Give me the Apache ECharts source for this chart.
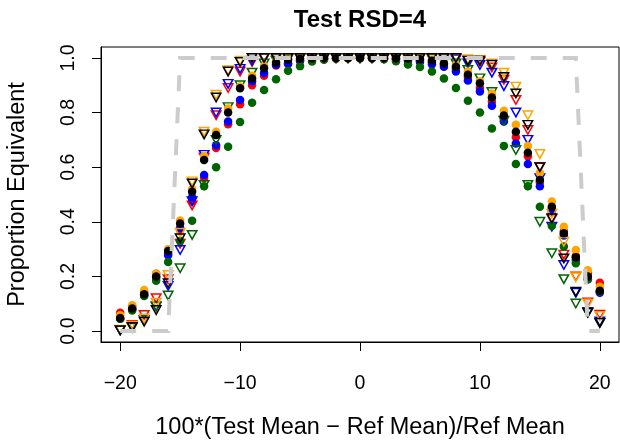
<!DOCTYPE html>
<html>
<head>
<meta charset="utf-8">
<script src="https://cdn.jsdelivr.net/npm/echarts@6/dist/echarts.min.js"></script>
<style>
html,body{margin:0;padding:0;background:#fff;}
#chart{width:620px;height:441px;}
</style>
</head>
<body>
<div id="chart"></div>
<script>
// x positions: 100*(Test Mean - Ref Mean)/Ref Mean
const xs = [-20,-19,-18,-17,-16,-15,-14,-13,-12,-11,-10,-9,-8,-7,-6,-5,-4,-3,-2,-1,0,1,2,3,4,5,6,7,8,9,10,11,12,13,14,15,16,17,18,19,20];

// ideal (reference) curve, gray dashed
const idealY = [0,0,0,0,0,1,1,1,1,1,1,1,1,1,1,1,1,1,1,1,1,1,1,1,1,1,1,1,1,1,1,1,1,1,1,1,1,1,1,0,0];

// filled circles
const redCirc = [.067,.09,.14,.21,.285,.37,.475,.56,.67,.757,.83,.90,.935,.972,.978,.99,.995,.998,.999,1,1,1,.999,.997,.993,.99,.983,.975,.96,.93,.89,.84,.775,.71,.64,.545,.45,.365,.275,.21,.177];
const blueCirc = [.045,.08,.13,.195,.278,.377,.49,.571,.68,.767,.846,.915,.945,.975,.98,.99,.995,.998,.999,1,1,.999,.998,.995,.99,.985,.977,.968,.95,.917,.877,.825,.767,.687,.612,.53,.437,.35,.26,.19,.14];
const greenCirc = [.045,.075,.128,.184,.253,.33,.404,.53,.60,.675,.765,.836,.883,.922,.953,.97,.987,.993,.997,.998,.998,.998,.995,.988,.976,.967,.95,.925,.89,.843,.80,.742,.678,.612,.53,.455,.385,.31,.248,.19,.145];
const orangeCirc = [.058,.095,.15,.21,.30,.405,.52,.64,.73,.815,.895,.935,.97,.988,.996,.998,1,1,1,1,1,1,1,1,.999,.997,.993,.99,.975,.95,.915,.87,.807,.755,.678,.58,.474,.382,.297,.223,.162];
const blackCirc = [.048,.083,.135,.20,.293,.394,.51,.626,.718,.80,.889,.925,.962,.982,.993,.997,.999,1,1,1,1,1,1,.999,.998,.995,.99,.98,.968,.938,.907,.855,.789,.73,.653,.553,.455,.358,.27,.20,.148];

// open down-triangles
const redTri = [.004,.022,.059,.12,.19,.32,.46,.635,.79,.89,.95,.985,.998,1,1,1,1,1,1,1,1,1,1,1,1,1,1,1,.998,.99,.985,.965,.92,.846,.736,.60,.41,.28,.20,.105,.06];
const blueTri = [.003,.015,.04,.09,.165,.297,.475,.645,.80,.905,.96,.99,1,1,1,1,1,1,1,1,1,1,1,1,1,1,1,.998,.995,.98,.974,.946,.897,.80,.70,.56,.382,.242,.14,.07,.035];
const greenTri = [.003,.012,.04,.09,.13,.23,.352,.535,.70,.82,.90,.946,.98,.99,.997,1,1,1,1,1,1,1,1,1,1,1,.997,.99,.98,.956,.925,.875,.77,.663,.535,.40,.285,.19,.101,.067,.03];
const orangeTri = [.005,.02,.046,.104,.205,.36,.548,.73,.865,.955,.99,1,1,1,1,1,1,1,1,1,1,1,1,1,1,1,1,1,1,.995,.993,.98,.946,.895,.79,.648,.43,.327,.197,.10,.055];
const blackTri = [.003,.015,.034,.077,.175,.34,.54,.72,.855,.95,.985,1,1,1,1,1,1,1,1,1,1,1,1,1,1,1,1,1,1,.99,.99,.975,.93,.87,.755,.60,.413,.266,.144,.067,.03];

const xTicks = [-20,-10,0,10,20];
const yTicks = [0,0.2,0.4,0.6,0.8,1.0];

const titleText = 'Test RSD=4';
const xTitle = '100*(Test Mean \u2212 Ref Mean)/Ref Mean';
const yTitle = 'Proportion Equivalent';

const FONT = '"Liberation Sans", Arial, Helvetica, sans-serif';
const pair = arr => xs.map((x, i) => [x, arr[i]]);

function circ(name, arr, color) {
  return {
    name, type: 'scatter', data: pair(arr), symbol: 'circle', symbolSize: 8.5,
    itemStyle: { color: color, opacity: 1 }, silent: true, animation: false
  };
}
function tri(name, arr, color) {
  return {
    name, type: 'scatter', data: pair(arr), symbol: 'triangle', symbolRotate: 180,
    symbolSize: [9.5, 8.5],
    itemStyle: { color: 'rgba(0,0,0,0)', borderColor: color, borderWidth: 1.5, opacity: 1 },
    silent: true, animation: false
  };
}

const chart = echarts.init(document.getElementById('chart'), null, { renderer: 'canvas' });
chart.setOption({
  animation: false,
  backgroundColor: '#ffffff',
  grid: { left: 101, top: 47, width: 518, height: 295, show: true, borderColor: '#000', borderWidth: 1, backgroundColor: 'transparent' },
  xAxis: {
    type: 'value', min: -21.6, max: 21.6,
    axisLine: { show: true, onZero: false, lineStyle: { color: '#000', width: 1 } },
    axisTick: { show: true, length: 9, customValues: xTicks, lineStyle: { color: '#000', width: 1 } },
    axisLabel: { customValues: xTicks, color: '#000', fontSize: 19.5, fontFamily: FONT, margin: 32,
      formatter: v => (v < 0 ? '\u2212' + Math.abs(v) : String(v)) },
    splitLine: { show: false }
  },
  yAxis: {
    type: 'value', min: -0.04, max: 1.04,
    axisLine: { show: true, onZero: false, lineStyle: { color: '#000', width: 1 } },
    axisTick: { show: true, length: 9, customValues: yTicks, lineStyle: { color: '#000', width: 1 } },
    axisLabel: { customValues: yTicks, color: '#000', fontSize: 19.5, fontFamily: FONT, margin: 22, rotate: 90,
      formatter: v => Number(v).toFixed(1) },
    splitLine: { show: false }
  },
  graphic: [
    { type: 'text', x: 360, y: 20, style: { text: titleText, textAlign: 'center', textVerticalAlign: 'middle', font: 'bold 24px ' + FONT, fill: '#000' }, silent: true },
    { type: 'text', x: 360, y: 428, style: { text: xTitle, textAlign: 'center', textVerticalAlign: 'middle', font: '23.5px ' + FONT, fill: '#000' }, silent: true },
    { type: 'text', x: 18, y: 194.5, rotation: Math.PI / 2, style: { text: yTitle, textAlign: 'center', textVerticalAlign: 'middle', font: '23.5px ' + FONT, fill: '#000' }, silent: true }
  ],
  series: [
    { name: 'ideal', type: 'line', data: pair(idealY), symbol: 'none', silent: true, animation: false,
      lineStyle: { color: '#cccccc', width: 4, type: [16, 16], cap: 'butt', join: 'miter' } },
    circ('red', redCirc, '#ff0000'),
    tri('redT', redTri, '#ff0000'),
    circ('blue', blueCirc, '#0000ff'),
    tri('blueT', blueTri, '#0000ff'),
    circ('green', greenCirc, '#006400'),
    tri('greenT', greenTri, '#006400'),
    circ('orange', orangeCirc, '#ffa500'),
    tri('orangeT', orangeTri, '#ffa500'),
    circ('black', blackCirc, '#000000'),
    tri('blackT', blackTri, '#000000')
  ]
});
</script>
</body>
</html>
